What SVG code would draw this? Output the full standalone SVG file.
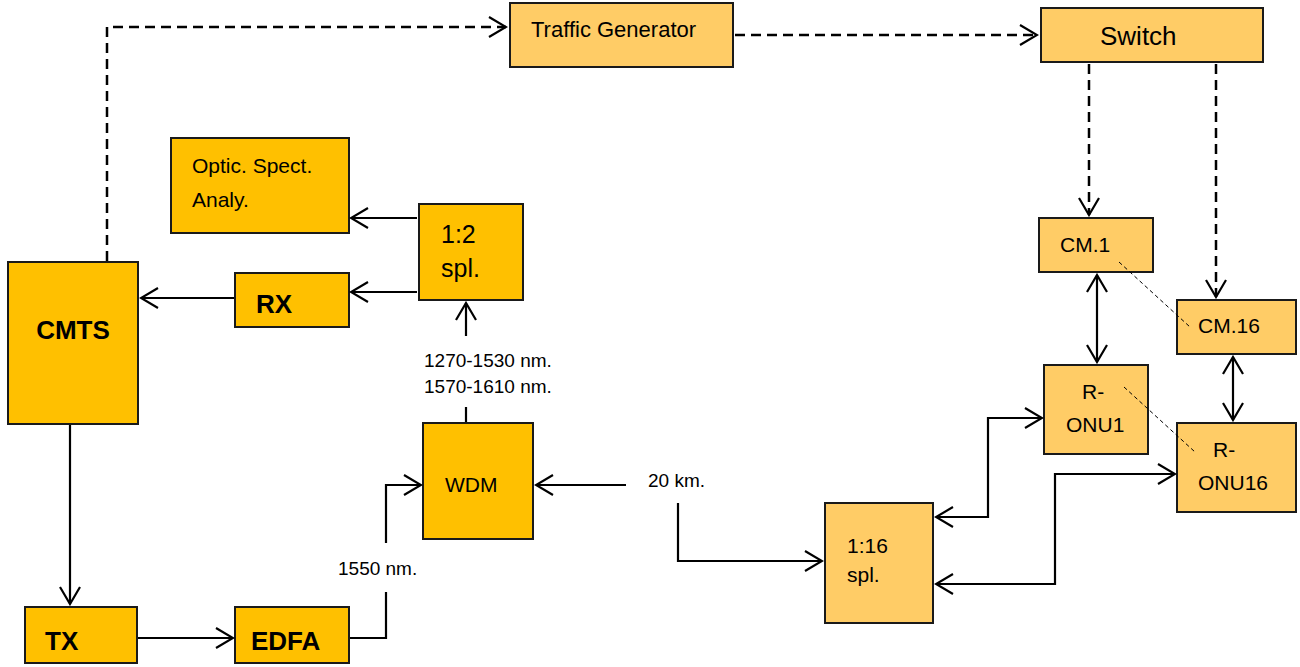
<svg xmlns="http://www.w3.org/2000/svg" width="1300" height="667" viewBox="0 0 1300 667">
<style>
.dk{fill:#FFC000;stroke:#1a1a1a;stroke-width:2}
.lt{fill:#FFCC66;stroke:#1a1a1a;stroke-width:2}
.t{font-family:"Liberation Sans",Arial,sans-serif;font-size:21px;fill:#000}
.b{font-family:"Liberation Sans",Arial,sans-serif;font-size:26px;font-weight:bold;fill:#000}
.s{font-family:"Liberation Sans",Arial,sans-serif;font-size:19px;fill:#000}
.c{fill:none;stroke:#000;stroke-width:2.2}
.d{fill:none;stroke:#000;stroke-width:2.5;stroke-dasharray:10,6}
.th{fill:none;stroke:#000;stroke-width:1;stroke-dasharray:4,3}
</style>
<defs>
<marker id="ah" viewBox="0 0 20 22" refX="18" refY="11" markerWidth="20" markerHeight="22" markerUnits="userSpaceOnUse" orient="auto-start-reverse">
<path d="M1,1 L18,11 L1,21" fill="none" stroke="#000" stroke-width="2.2"/>
</marker>
</defs>
<rect width="1300" height="667" fill="#fff"/>
<g id="traffic-generator"><rect class="lt" x="510" y="3" width="223" height="64"/><text class="t" x="531" y="37" style="font-size:22px">Traffic Generator</text></g>
<g id="switch"><rect class="lt" x="1041" y="8" width="222" height="54"/><text class="t" x="1100" y="45" style="font-size:26px">Switch</text></g>
<g id="optic-spect-analy"><rect class="dk" x="171" y="138" width="178" height="95"/><text class="t" x="192" y="173">Optic. Spect.</text><text class="t" x="192" y="207">Analy.</text></g>
<g id="splitter-1-2"><rect class="dk" x="419" y="204" width="104" height="96"/><text class="t" x="441" y="243" style="font-size:25px">1:2</text><text class="t" x="441" y="277" style="font-size:25px">spl.</text></g>
<g id="cmts"><rect class="dk" x="8" y="262" width="130" height="162"/><text class="b" x="73" y="339" text-anchor="middle">CMTS</text></g>
<g id="rx"><rect class="dk" x="235" y="273" width="114" height="54"/><text class="b" x="256" y="313">RX</text></g>
<g id="wdm-label"><text class="s" x="424" y="367">1270-1530 nm.</text><text class="s" x="424" y="393">1570-1610 nm.</text></g>
<g id="wdm"><rect class="dk" x="423" y="423" width="110" height="116"/><text class="t" x="445" y="492">WDM</text></g>
<g id="tx"><rect class="dk" x="25" y="607" width="112" height="56"/><text class="b" x="45" y="650">TX</text></g>
<g id="edfa"><rect class="dk" x="235" y="607" width="114" height="56"/><text class="b" x="251" y="650">EDFA</text></g>
<g id="label-1550"><text class="s" x="338" y="575">1550 nm.</text></g>
<g id="label-20km"><text class="s" x="648" y="487">20 km.</text></g>
<g id="splitter-1-16"><rect class="lt" x="825" y="503" width="108" height="120"/><text class="t" x="847" y="553">1:16</text><text class="t" x="847" y="582">spl.</text></g>
<g id="cm1"><rect class="lt" x="1039" y="218" width="114" height="54"/><text class="t" x="1060" y="252">CM.1</text></g>
<g id="cm16"><rect class="lt" x="1177" y="300" width="119" height="54"/><text class="t" x="1198" y="333">CM.16</text></g>
<g id="r-onu1"><rect class="lt" x="1044" y="365" width="104" height="89"/><text class="t" x="1082" y="399">R-</text><text class="t" x="1066" y="432">ONU1</text></g>
<g id="r-onu16"><rect class="lt" x="1177" y="423" width="119" height="89"/><text class="t" x="1213" y="457">R-</text><text class="t" x="1198" y="490">ONU16</text></g>
<g id="connectors">
<path class="d" d="M107,261 V27 H506" marker-end="url(#ah)"/>
<path class="d" d="M735,35 H1037" marker-end="url(#ah)"/>
<path class="d" d="M1089,64 V215" marker-end="url(#ah)"/>
<path class="d" d="M1216,64 V297" marker-end="url(#ah)"/>
<path class="c" d="M417,218 H351" marker-end="url(#ah)"/>
<path class="c" d="M417,292 H351" marker-end="url(#ah)"/>
<path class="c" d="M234,298 H141" marker-end="url(#ah)"/>
<path class="c" d="M466,336 V303" marker-end="url(#ah)"/>
<path class="c" d="M466,407 V422"/>
<path class="c" d="M70,425 V604" marker-end="url(#ah)"/>
<path class="c" d="M138,638 H233" marker-end="url(#ah)"/>
<path class="c" d="M350,638 H386 V592"/>
<path class="c" d="M386,543 V485 H421" marker-end="url(#ah)"/>
<path class="c" d="M626,485 H536" marker-end="url(#ah)"/>
<path class="c" d="M678,503 V561 H822" marker-end="url(#ah)"/>
<path class="c" d="M936,517 H988 V418 H1042" marker-start="url(#ah)" marker-end="url(#ah)"/>
<path class="c" d="M936,584 H1055 V474 H1175" marker-start="url(#ah)" marker-end="url(#ah)"/>
<path class="c" d="M1097,275 V362" marker-start="url(#ah)" marker-end="url(#ah)"/>
<path class="c" d="M1233,357 V420" marker-start="url(#ah)" marker-end="url(#ah)"/>
<path class="th" d="M1119,262 L1190,327"/>
<path class="th" d="M1124,387 L1195,452"/>
</g>
</svg>
